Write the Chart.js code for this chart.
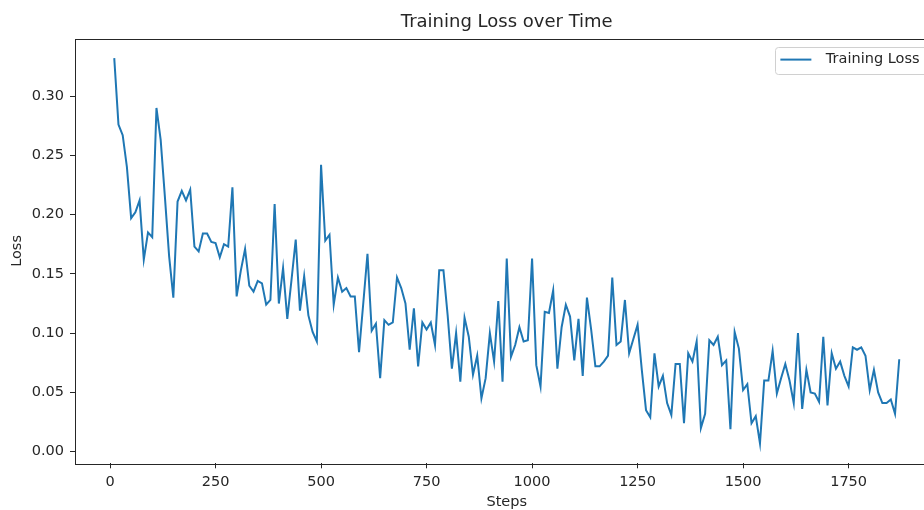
<!DOCTYPE html>
<html lang="en">
<head>
    <meta charset="UTF-8">
    <title>Training Loss over Time</title>
    <style>
        /* Page: the figure is wider than the window, its right edge is cut off like the screenshot */
        html, body {
            margin: 0;
            padding: 0;
            background: #ffffff;
            overflow: hidden;
        }

        .chart-box {
            width: 1010px;
            height: 510px;
        }
    </style>
</head>
<body>
    <div class="chart-box">
        <canvas id="lossChart" width="1010" height="510"></canvas>
    </div>

    <script src="https://cdn.jsdelivr.net/npm/chart.js"></script>
    <script>
        // Logged steps (every 10 steps)
        const steps = [
            10, 20, 30, 40, 50, 60, 70, 80, 90, 100,
            110, 120, 130, 140, 150, 160, 170, 180, 190, 200,
            210, 220, 230, 240, 250, 260, 270, 280, 290, 300,
            310, 320, 330, 340, 350, 360, 370, 380, 390, 400,
            410, 420, 430, 440, 450, 460, 470, 480, 490, 500,
            510, 520, 530, 540, 550, 560, 570, 580, 590, 600,
            610, 620, 630, 640, 650, 660, 670, 680, 690, 700,
            710, 720, 730, 740, 750, 760, 770, 780, 790, 800,
            810, 820, 830, 840, 850, 860, 870, 880, 890, 900,
            910, 920, 930, 940, 950, 960, 970, 980, 990, 1000,
            1010, 1020, 1030, 1040, 1050, 1060, 1070, 1080, 1090, 1100,
            1110, 1120, 1130, 1140, 1150, 1160, 1170, 1180, 1190, 1200,
            1210, 1220, 1230, 1240, 1250, 1260, 1270, 1280, 1290, 1300,
            1310, 1320, 1330, 1340, 1350, 1360, 1370, 1380, 1390, 1400,
            1410, 1420, 1430, 1440, 1450, 1460, 1470, 1480, 1490, 1500,
            1510, 1520, 1530, 1540, 1550, 1560, 1570, 1580, 1590, 1600,
            1610, 1620, 1630, 1640, 1650, 1660, 1670, 1680, 1690, 1700,
            1710, 1720, 1730, 1740, 1750, 1760, 1770, 1780, 1790, 1800,
            1810, 1820, 1830, 1840, 1850, 1860, 1870
        ];

        // Training loss
        const trainingLoss = [
            0.332, 0.276, 0.267, 0.240, 0.197, 0.202, 0.212, 0.162, 0.185, 0.181,
            0.290, 0.263, 0.215, 0.165, 0.130, 0.211, 0.220, 0.212, 0.221, 0.173,
            0.169, 0.184, 0.184, 0.177, 0.176, 0.164, 0.175, 0.173, 0.223, 0.131,
            0.153, 0.171, 0.140, 0.135, 0.144, 0.142, 0.124, 0.128, 0.209, 0.125,
            0.155, 0.112, 0.145, 0.179, 0.119, 0.148, 0.115, 0.101, 0.093, 0.242,
            0.178, 0.183, 0.124, 0.147, 0.135, 0.138, 0.131, 0.131, 0.084, 0.125,
            0.167, 0.102, 0.108, 0.062, 0.111, 0.107, 0.109, 0.147, 0.138, 0.125,
            0.086, 0.121, 0.072, 0.109, 0.103, 0.109, 0.090, 0.153, 0.153, 0.115,
            0.070, 0.100, 0.059, 0.113, 0.097, 0.065, 0.081, 0.045, 0.062, 0.100,
            0.076, 0.127, 0.059, 0.163, 0.080, 0.090, 0.105, 0.093, 0.094, 0.163,
            0.073, 0.055, 0.118, 0.117, 0.136, 0.070, 0.105, 0.124, 0.114, 0.077,
            0.112, 0.064, 0.130, 0.103, 0.072, 0.072, 0.076, 0.081, 0.147, 0.090,
            0.093, 0.128, 0.083, 0.095, 0.107, 0.069, 0.035, 0.029, 0.083, 0.055,
            0.064, 0.041, 0.031, 0.074, 0.074, 0.024, 0.083, 0.076, 0.093, 0.020,
            0.032, 0.094, 0.090, 0.097, 0.073, 0.077, 0.019, 0.101, 0.087, 0.052,
            0.057, 0.024, 0.030, 0.007, 0.060, 0.060, 0.085, 0.049, 0.062, 0.074,
            0.060, 0.041, 0.100, 0.036, 0.069, 0.050, 0.049, 0.042, 0.097, 0.039,
            0.083, 0.070, 0.076, 0.064, 0.055, 0.088, 0.086, 0.088, 0.081, 0.052,
            0.069, 0.050, 0.041, 0.041, 0.044, 0.032, 0.078
        ];

        // Tick labels
        const xTicks = [0, 250, 500, 750, 1000, 1250, 1500, 1750];
        const yTicks = [0.00, 0.05, 0.10, 0.15, 0.20, 0.25, 0.30];

        const INK = '#262626';
        const LINE_BLUE = '#1f77b4';
        const FONT = 'DejaVu Sans';

        // Axes box (all four spines) and a matplotlib style framed legend in the top right corner
        const framePlugin = {
            id: 'frame',
            afterDraw(chart) {
                const ctx = chart.ctx;
                const a = chart.chartArea;
                ctx.save();
                ctx.strokeStyle = INK;
                ctx.lineWidth = 1;
                ctx.strokeRect(Math.round(a.left) + 0.5, Math.round(a.top) + 0.5,
                    Math.round(a.right - a.left), Math.round(a.bottom - a.top));

                // legend
                const ds = chart.data.datasets[0];
                ctx.font = '14.5px "' + FONT + '"';
                const textW = ctx.measureText(ds.label).width;
                const x1 = a.right - 7;
                const textX = x1 - 12 - textW;
                const lineX1 = textX - 14.5;
                const lineX0 = lineX1 - 31;
                const x0 = lineX0 - 5.5;
                const y0 = a.top + 8;
                const midY = y0 + 13;

                ctx.fillStyle = 'rgba(255,255,255,0.8)';
                ctx.strokeStyle = '#d0d0d0';
                ctx.beginPath();
                ctx.roundRect(Math.round(x0) + 0.5, Math.round(y0) + 0.5, Math.round(x1 - x0), 27, 3);
                ctx.fill();
                ctx.stroke();

                ctx.strokeStyle = ds.borderColor;
                ctx.lineWidth = ds.borderWidth;
                ctx.beginPath();
                ctx.moveTo(lineX0, midY);
                ctx.lineTo(lineX1, midY);
                ctx.stroke();

                ctx.fillStyle = INK;
                ctx.textBaseline = 'middle';
                ctx.textAlign = 'left';
                ctx.fillText(ds.label, textX, midY);
                ctx.restore();
            }
        };

        const ctx = document.getElementById('lossChart').getContext('2d');
        new Chart(ctx, {
            type: 'line',
            data: {
                datasets: [
                    {
                        label: 'Training Loss',
                        data: steps.map((s, i) => ({ x: s, y: trainingLoss[i] })),
                        borderColor: LINE_BLUE,
                        backgroundColor: LINE_BLUE,
                        borderWidth: 2,
                        pointRadius: 0,
                        tension: 0,
                        fill: false
                    }
                ]
            },
            options: {
                responsive: false,
                animation: false,
                layout: {
                    padding: { left: 0, right: 71.5, top: 0, bottom: 0 }
                },
                plugins: {
                    title: {
                        display: true,
                        fullSize: false,
                        text: 'Training Loss over Time',
                        color: INK,
                        font: { family: FONT, size: 18, weight: 'normal' },
                        padding: { top: 12, bottom: 5 }
                    },
                    legend: { display: false },
                    tooltip: { enabled: false }
                },
                scales: {
                    x: {
                        type: 'linear',
                        min: -83,
                        max: 1963,
                        afterBuildTicks: (axis) => { axis.ticks = xTicks.map(v => ({ value: v })); },
                        afterFit: (axis) => { axis.height = 46.7; },
                        grid: {
                            display: true,
                            drawOnChartArea: false,
                            drawTicks: true,
                            tickLength: 5,
                            color: INK
                        },
                        border: { display: false },
                        ticks: {
                            color: INK,
                            padding: 5,
                            maxRotation: 0,
                            font: { family: FONT, size: 14.5 },
                            callback: (v) => String(v)
                        },
                        title: {
                            display: true,
                            text: 'Steps',
                            color: INK,
                            font: { family: FONT, size: 14.5 },
                            padding: { top: 0, bottom: -1 }
                        }
                    },
                    y: {
                        min: -0.0098,
                        max: 0.3485,
                        afterBuildTicks: (axis) => { axis.ticks = yTicks.map(v => ({ value: v })); },
                        afterFit: (axis) => { axis.width = 75; },
                        grid: {
                            display: true,
                            drawOnChartArea: false,
                            drawTicks: true,
                            tickLength: 5,
                            color: INK
                        },
                        border: { display: false },
                        ticks: {
                            color: INK,
                            padding: 6,
                            font: { family: FONT, size: 14.5 },
                            callback: (v) => v.toFixed(2)
                        },
                        title: {
                            display: true,
                            text: 'Loss',
                            color: INK,
                            font: { family: FONT, size: 14.5 },
                            padding: { top: 9, bottom: 0 }
                        }
                    }
                }
            },
            plugins: [framePlugin]
        });
    </script>
</body>
</html>
